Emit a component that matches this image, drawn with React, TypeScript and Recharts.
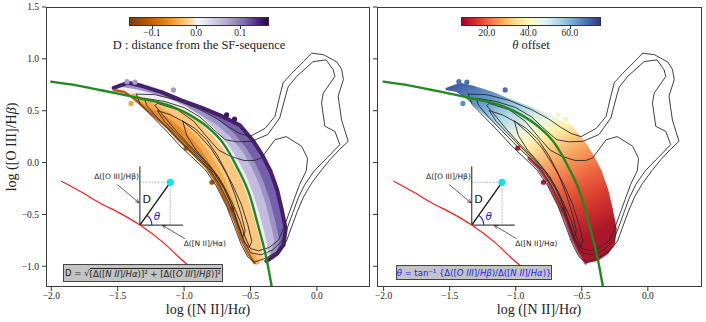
import React from 'react';
import { ScatterChart, Scatter, XAxis, YAxis, ReferenceLine, ReferenceDot } from 'recharts';

type Pt = [number, number];

// axis ticks
const X_TICKS = [-2, -1.5, -1, -0.5, 0];
const Y_TICKS = [-1, -0.5, 0, 0.5, 1, 1.5];

// colourbars
const D_TICKS = [-0.1, 0, 0.1];
const D_RANGE = [-0.152, 0.165];
const THETA_TICKS = [20, 40, 60];
const THETA_RANGE = [7.5, 75];

// green SF-sequence curve
const SF_CURVE: Pt[] = [
  [-2.0, 0.78], [-1.8, 0.742], [-1.635, 0.70], [-1.48, 0.66], [-1.333, 0.62], [-1.132, 0.558],
  [-0.959, 0.46], [-0.831, 0.35], [-0.708, 0.19], [-0.605, -0.035], [-0.505, -0.32],
  [-0.442, -0.61], [-0.379, -0.93], [-0.341, -1.19],
];

// red curve
const RED_CURVE: Pt[] = [
  [-1.923, -0.18], [-1.78, -0.28], [-1.635, -0.39], [-1.48, -0.49], [-1.333, -0.603],
  [-1.158, -0.77], [-1.007, -0.95], [-0.96, -1.0],
];

// hexbin band: edges and colour iso-lines, top-left tip to bottom
const EDGE_HIGH: Pt[] = [
  [-1.53, 0.72], [-1.42, 0.77], [-1.32, 0.74], [-1.17, 0.68], [-1.02, 0.60], [-0.87, 0.53],
  [-0.72, 0.45], [-0.58, 0.36], [-0.48, 0.21], [-0.41, 0.07], [-0.35, -0.08], [-0.30, -0.26],
  [-0.265, -0.45], [-0.235, -0.64], [-0.25, -0.79], [-0.30, -0.88], [-0.38, -0.95],
];
const MID_HIGH: Pt[] = [
  [-1.45, 0.75], [-1.32, 0.72], [-1.17, 0.655], [-1.02, 0.575], [-0.88, 0.49], [-0.75, 0.39],
  [-0.64, 0.27], [-0.55, 0.13], [-0.48, -0.02], [-0.42, -0.19], [-0.37, -0.38], [-0.33, -0.58],
  [-0.30, -0.76], [-0.33, -0.88],
];
const CENTER: Pt[] = [
  [-1.53, 0.71], [-1.38, 0.68], [-1.25, 0.64], [-1.12, 0.59], [-1.0, 0.52], [-0.88, 0.42],
  [-0.78, 0.30], [-0.69, 0.16], [-0.62, 0.02], [-0.56, -0.12], [-0.51, -0.28], [-0.47, -0.44],
  [-0.43, -0.62], [-0.40, -0.78], [-0.38, -0.93],
];
const MID_LOW: Pt[] = [
  [-1.38, 0.64], [-1.25, 0.555], [-1.12, 0.46], [-1.02, 0.36], [-0.93, 0.25], [-0.85, 0.13],
  [-0.78, -0.01], [-0.71, -0.17], [-0.65, -0.36], [-0.60, -0.55], [-0.55, -0.73], [-0.50, -0.88],
  [-0.45, -0.96],
];
const EDGE_LOW: Pt[] = [
  [-1.53, 0.70], [-1.45, 0.68], [-1.38, 0.62], [-1.30, 0.53], [-1.22, 0.44], [-1.12, 0.33],
  [-1.05, 0.23], [-0.97, 0.13], [-0.90, 0.04], [-0.83, -0.05], [-0.755, -0.19], [-0.68, -0.39],
  [-0.62, -0.56], [-0.57, -0.74], [-0.52, -0.87], [-0.47, -0.97],
];

// loose hexbin cells
const STRAY_TOP: Pt[] = [[-1.08, 0.70], [-1.43, 0.78], [-1.37, 0.775]];
const STRAY_MID: Pt[] = [[-0.68, 0.46], [-0.62, 0.42]];
const STRAY_LEFT: Pt[] = [[-1.40, 0.57]];
const STRAY_EDGE: Pt[] = [[-0.79, -0.19], [-0.64, -0.45], [-0.985, 0.14]];

// density contours
const CONTOUR_1: Pt[] = [
  [-1.36, 0.66], [-1.22, 0.655], [-1.05, 0.60], [-0.88, 0.51], [-0.75, 0.42], [-0.66, 0.34],
  [-0.58, 0.28], [-0.505, 0.25], [-0.39, 0.33], [-0.316, 0.445], [-0.28, 0.64], [-0.254, 0.77],
  [-0.19, 0.86], [-0.10, 0.974], [-0.04, 1.055], [0.05, 1.04], [0.15, 0.97], [0.186, 0.90],
  [0.20, 0.80], [0.16, 0.64], [0.186, 0.41], [0.236, 0.205], [0.17, 0.125], [0.10, 0.03],
  [0.03, -0.08], [-0.04, -0.20], [-0.10, -0.33], [-0.15, -0.48], [-0.19, -0.62], [-0.23, -0.76],
  [-0.29, -0.85], [-0.38, -0.92], [-0.47, -0.96], [-0.52, -0.91], [-0.57, -0.79], [-0.62, -0.62],
  [-0.68, -0.42], [-0.76, -0.22], [-0.84, -0.07], [-0.93, 0.04], [-1.03, 0.16], [-1.13, 0.30],
  [-1.23, 0.43], [-1.33, 0.56], [-1.36, 0.66],
];
const CONTOUR_2: Pt[] = [
  [-1.30, 0.62], [-1.15, 0.59], [-1.0, 0.53], [-0.88, 0.44], [-0.78, 0.32], [-0.69, 0.22],
  [-0.60, 0.20], [-0.49, 0.205], [-0.37, 0.27], [-0.28, 0.43], [-0.23, 0.67], [-0.216, 0.73],
  [-0.153, 0.83], [-0.028, 0.974], [0.07, 0.99], [0.123, 0.894], [0.136, 0.83], [0.048, 0.67],
  [0.035, 0.574], [0.06, 0.35], [0.136, 0.30], [0.173, 0.173], [0.08, 0.05], [-0.02, -0.08],
  [-0.09, -0.21], [-0.14, -0.34], [-0.18, -0.48], [-0.22, -0.62], [-0.26, -0.75], [-0.33, -0.84],
  [-0.42, -0.89], [-0.50, -0.87], [-0.55, -0.75], [-0.60, -0.58], [-0.66, -0.40], [-0.73, -0.22],
  [-0.80, -0.08], [-0.90, 0.05], [-1.0, 0.17], [-1.10, 0.30], [-1.20, 0.43], [-1.28, 0.55],
  [-1.30, 0.62],
];
const CONTOUR_3: Pt[] = [
  [-1.20, 0.57], [-1.05, 0.51], [-0.93, 0.40], [-0.83, 0.25], [-0.74, 0.12], [-0.65, 0.06],
  [-0.55, 0.02], [-0.47, 0.02], [-0.417, 0.045], [-0.316, 0.22], [-0.23, 0.25], [-0.115, 0.157],
  [-0.07, 0.04], [-0.08, -0.08], [-0.13, -0.21], [-0.17, -0.35], [-0.21, -0.49], [-0.25, -0.63],
  [-0.29, -0.75], [-0.36, -0.82], [-0.44, -0.85], [-0.50, -0.83], [-0.54, -0.72], [-0.58, -0.56],
  [-0.64, -0.38], [-0.71, -0.21], [-0.78, -0.08], [-0.87, 0.05], [-0.97, 0.18], [-1.07, 0.32],
  [-1.16, 0.46], [-1.22, 0.55], [-1.20, 0.57],
];
const CONTOUR_4: Pt[] = [
  [-1.20, 0.50], [-1.10, 0.46], [-1.0, 0.39], [-0.90, 0.28], [-0.80, 0.14], [-0.72, -0.02],
  [-0.64, -0.20], [-0.57, -0.40], [-0.52, -0.60], [-0.49, -0.76], [-0.51, -0.82], [-0.55, -0.76],
  [-0.59, -0.60], [-0.64, -0.42], [-0.70, -0.25], [-0.77, -0.11], [-0.86, 0.02], [-0.96, 0.15],
  [-1.06, 0.28], [-1.15, 0.40], [-1.20, 0.50],
];
const CONTOUR_5: Pt[] = [
  [-1.01, 0.40], [-0.92, 0.33], [-0.83, 0.22], [-0.75, 0.07], [-0.68, -0.10], [-0.62, -0.30],
  [-0.57, -0.50], [-0.54, -0.66], [-0.56, -0.72], [-0.59, -0.62], [-0.63, -0.45], [-0.68, -0.28],
  [-0.74, -0.14], [-0.82, -0.01], [-0.91, 0.12], [-0.98, 0.26], [-1.01, 0.40],
];
const CONTOURS = [CONTOUR_1, CONTOUR_2, CONTOUR_3, CONTOUR_4, CONTOUR_5];

// inset sketch of D and theta
const ORIGIN: Pt = [-1.333, -0.603];
const POINT: Pt = [-1.104, -0.19];
const V_TOP: Pt = [-1.333, -0.036];
const H_END: Pt = [-1.007, -0.603];
const ARROW_O3: [Pt, Pt] = [[-1.504, -0.212], [-1.339, -0.388]];
const ARROW_N2: [Pt, Pt] = [[-0.994, -0.734], [-1.162, -0.606]];
const LABEL_O3: Pt = [-1.509, -0.135];
const LABEL_N2: Pt = [-0.844, -0.782];
const LABEL_D: Pt = [-1.281, -0.356];
const LABEL_TH: Pt = [-1.205, -0.519];

const toXY = (pts: Pt[]) => pts.map(([x, y]) => ({ x, y }));
const strip = (a: Pt[], b: Pt[]) => [...a, ...b.slice().reverse()];
const fmt = (v: number) => v.toFixed(1).replace('-', '\u2212');
const noDot = () => <g />;
const SERIF = '"Liberation Serif", "DejaVu Serif", serif';
const SANS = '"DejaVu Sans", sans-serif';

const poly = (key: string, pts: Pt[], fill: string) => (
  <Scatter key={key} data={toXY(pts)} shape={noDot} line={{ fill, stroke: 'none' }}
    lineType="joint" isAnimationActive={false} legendType="none" />
);
const path = (key: string, pts: Pt[], stroke: string, width: number, joint: any = 'linear', extra: any = {}) => (
  <Scatter key={key} data={toXY(pts)} shape={noDot}
    line={{ stroke, strokeWidth: width, fill: 'none', strokeLinejoin: 'round', strokeLinecap: 'round', ...extra }}
    lineType="joint" lineJointType={joint} isAnimationActive={false} legendType="none" />
);
const dots = (key: string, pts: Pt[], fill: string, r: number) => (
  <Scatter key={key} data={toXY(pts)} fill={fill}
    shape={(p: any) => <circle cx={p.cx} cy={p.cy} r={r} fill={fill} />}
    isAnimationActive={false} legendType="none" />
);
const seg = (key: string, a: Pt, b: Pt, stroke: string, width: number, extra: any = {}) => (
  <ReferenceLine key={key} segment={[{ x: a[0], y: a[1] }, { x: b[0], y: b[1] }]}
    stroke={stroke} strokeWidth={width} {...extra} />
);
const label = (key: string, at: Pt, node: React.ReactNode, size: number, color: string, italic = false) => (
  <ReferenceDot key={key} x={at[0]} y={at[1]} r={0}
    shape={(p: any) => (
      <text x={p.cx} y={p.cy} textAnchor="middle" dominantBaseline="central" fontSize={size}
        fontFamily={SANS} fill={color} fontStyle={italic ? 'italic' : 'normal'}>{node}</text>
    )} />
);

function Panel({ side }: { side: 'left' | 'right' }) {
  const isLeft = side === 'left';
  const id = side;
  return (
    <ScatterChart width={isLeft ? 372 : 334} height={322}
      margin={{ top: 7, right: isLeft ? 2 : 4, bottom: 0, left: 0 }}>
      <defs>
        <linearGradient id={`theta-${id}`} x1="0.05" y1="0" x2="0.55" y2="1">
          <stop offset="0" stopColor="#3a55a4" />
          <stop offset="0.16" stopColor="#6a9fcc" />
          <stop offset="0.27" stopColor="#b0d8e8" />
          <stop offset="0.38" stopColor="#eef6df" />
          <stop offset="0.45" stopColor="#fff2ac" />
          <stop offset="0.53" stopColor="#fdc27a" />
          <stop offset="0.61" stopColor="#f99857" />
          <stop offset="0.73" stopColor="#ec6040" />
          <stop offset="0.86" stopColor="#d4352d" />
          <stop offset="1" stopColor="#ab162b" />
        </linearGradient>
        <marker id={`arrow-${id}`} viewBox="0 0 10 10" refX="9" refY="5" markerWidth="6" markerHeight="6" orient="auto">
          <path d="M0,1 L10,5 L0,9" fill="none" stroke="#222" strokeWidth={1.4} />
        </marker>
      </defs>
      <XAxis type="number" dataKey="x" domain={isLeft ? [-2.04, 0.40] : [-2.05, 0.41]} allowDataOverflow
        ticks={X_TICKS} tickFormatter={fmt} height={35} axisLine={false} tickSize={4} tickMargin={1}
        tickLine={{ stroke: '#333' }} tick={{ fontSize: 9.5, fill: '#222', fontFamily: SERIF }} interval={0} />
      <YAxis type="number" dataKey="y" domain={[-1.2, 1.5]} allowDataOverflow ticks={Y_TICKS}
        tickFormatter={isLeft ? fmt : () => ''} width={isLeft ? 46 : 5} axisLine={false} tickSize={4} tickMargin={3}
        tickLine={{ stroke: '#333' }} tick={{ fontSize: 9.5, fill: '#222', fontFamily: SERIF }} interval={0} />

      {isLeft && [
        poly('base', strip(EDGE_HIGH, EDGE_LOW), '#f1e4e0'),
        poly('s1', strip(EDGE_HIGH, MID_HIGH), '#7461aa'),
        poly('s2', strip(MID_HIGH, CENTER), '#c2bcde'),
        poly('s3', strip(CENTER, MID_LOW), '#fcc880'),
        poly('s4', strip(MID_LOW, EDGE_LOW), '#e58d2c'),
        path('b1', MID_HIGH, '#9d92c6', 5),
        path('b2', CENTER, '#f1eef3', 6),
        path('b3', MID_LOW, '#f7aa4e', 5),
        path('e1', EDGE_HIGH, '#46206f', 4),
        path('e2', EDGE_LOW, '#b65f10', 2.5),
        dots('d1', STRAY_TOP, '#a79bcc', 2.6),
        dots('d2', STRAY_MID, '#3b1766', 2.6),
        dots('d3', STRAY_LEFT, '#f4a54c', 2.6),
        dots('d4', STRAY_EDGE, '#a1560f', 2.6),
      ]}
      {!isLeft && [
        poly('base', strip(EDGE_HIGH, EDGE_LOW), `url(#theta-${id})`),
        path('e2', EDGE_LOW.slice(8), '#a20f2a', 3, 'linear', { strokeOpacity: 0.75 }),
        dots('d1', STRAY_TOP, '#4a70b0', 2.6),
        dots('d2', STRAY_MID, '#f2f5c8', 2.6),
        dots('d3', STRAY_LEFT, '#5b8fc3', 2.6),
        dots('d4', STRAY_EDGE, '#b0182b', 2.6),
      ]}

      {CONTOURS.map((c, i) => path(`c${i}`, c, '#2a2a2a', 0.9))}
      {path('sf', SF_CURVE, '#1f8a1f', 2.4, 'monotoneX')}
      {path('red', RED_CURVE, '#ff1a1a', 1.2, 'monotoneX')}

      {seg('v', ORIGIN, V_TOP, '#444', 1.2)}
      {seg('h', ORIGIN, H_END, '#444', 1.2)}
      {seg('dx', [ORIGIN[0], POINT[1]], POINT, '#777', 0.6, { strokeDasharray: '1.5 1.5' })}
      {seg('dy', POINT, [POINT[0], ORIGIN[1]], '#777', 0.6, { strokeDasharray: '1.5 1.5' })}
      {seg('diag', ORIGIN, POINT, '#111', 1.3)}
      {[ARROW_O3, ARROW_N2].map((a, i) => (
        <ReferenceLine key={`arr${i}`} segment={[{ x: a[0][0], y: a[0][1] }, { x: a[1][0], y: a[1][1] }]}
          shape={(p: any) => (
            <line x1={p.x1} y1={p.y1} x2={p.x2} y2={p.y2} stroke="#222" strokeWidth={0.7}
              markerEnd={`url(#arrow-${id})`} />
          )} />
      ))}
      <ReferenceDot x={ORIGIN[0]} y={ORIGIN[1]} r={0}
        shape={(p: any) => {
          const r = 12;
          const a = (54.6 * Math.PI) / 180;
          return (
            <path d={`M${p.cx + r},${p.cy} A${r},${r} 0 0 0 ${p.cx + r * Math.cos(a)},${p.cy - r * Math.sin(a)}`}
              fill="none" stroke="#1d1dff" strokeWidth={1.1} />
          );
        }} />
      <ReferenceDot x={POINT[0]} y={POINT[1]} r={3.6} fill="#16e0ee" stroke="none" />
      {label('lo3', LABEL_O3, 'Δ([O III]/Hβ)', 7.5, '#222')}
      {label('ln2', LABEL_N2, 'Δ([N II]/Hα)', 7.5, '#222')}
      {label('ld', LABEL_D, 'D', 11, '#111')}
      {label('lt', LABEL_TH, 'θ', 10.5, '#1d1dff', true)}
    </ScatterChart>
  );
}

const frame = (left: number, width: number): React.CSSProperties => ({
  position: 'absolute', left, top: 7, width, height: 280, border: '1px solid #3a3a3a',
  boxSizing: 'border-box', pointerEvents: 'none',
});

function Colorbar({ left, stops, ticks, range, title, decimals }: {
  left: number; stops: string; ticks: number[]; range: number[]; title: React.ReactNode; decimals: number;
}) {
  const w = 140;
  const pos = (v: number) => ((v - range[0]) / (range[1] - range[0])) * w;
  return (
    <div style={{ position: 'absolute', left, top: 17, width: w, height: 40 }}>
      <div style={{ position: 'absolute', left: 0, top: 0, width: w, height: 9, background: `linear-gradient(to right, ${stops})`, border: '0.8px solid #333', boxSizing: 'border-box' }} />
      {ticks.map((t) => (
        <React.Fragment key={t}>
          <div style={{ position: 'absolute', left: pos(t), top: 9, width: 0.8, height: 3, background: '#333' }} />
          <div style={{ position: 'absolute', left: pos(t) - 20, top: 11, width: 40, textAlign: 'center', fontSize: 9.5, lineHeight: '11px', color: '#222' }}>
            {t.toFixed(decimals).replace('-', '\u2212')}
          </div>
        </React.Fragment>
      ))}
      <div style={{ position: 'absolute', left: -60, top: 21, width: w + 120, textAlign: 'center', fontSize: 12.5, lineHeight: '15px', color: '#222' }}>
        {title}
      </div>
    </div>
  );
}

const PUOR = '#7f3b08 0%, #b35806 12%, #e08214 25%, #fdb863 37%, #fee0b6 45%, #f7f7f7 49%, #d8daeb 58%, #b2abd2 70%, #8073ac 82%, #542788 92%, #2d004b 100%';
const RDYLBU = '#a50026 0%, #d73027 10%, #f46d43 20%, #fdae61 30%, #fee090 40%, #ffffbf 50%, #e0f3f8 60%, #abd9e9 70%, #74add1 80%, #4575b4 90%, #313695 100%';

export default function App() {
  return (
    <div style={{ position: 'absolute', left: 0, top: 0, width: 706, height: 322, background: '#fff', fontFamily: SERIF, overflow: 'hidden' }}>
      <div style={{ position: 'absolute', left: 0, top: 0 }}><Panel side="left" /></div>
      <div style={{ position: 'absolute', left: 372, top: 0 }}><Panel side="right" /></div>
      <div style={frame(46, 324)} />
      <div style={frame(377, 325)} />

      <Colorbar left={129} stops={PUOR} ticks={D_TICKS} range={D_RANGE} decimals={1}
        title={<span>D : distance from the SF-sequence</span>} />
      <Colorbar left={461} stops={RDYLBU} ticks={THETA_TICKS} range={THETA_RANGE} decimals={1}
        title={<span><i>θ</i> offset</span>} />

      {[208, 539].map((cx) => (
        <div key={cx} style={{ position: 'absolute', left: cx - 80, top: 302, width: 160, textAlign: 'center', fontSize: 14, lineHeight: '16px', color: '#222' }}>
          log ([N II]/H<i>α</i>)
        </div>
      ))}
      <div style={{ position: 'absolute', left: 12 - 100, top: 147 - 9, width: 200, height: 18, lineHeight: '18px', textAlign: 'center', fontSize: 14, color: '#222', transform: 'rotate(-90deg)' }}>
        log ([O III]/H<i>β</i>)
      </div>

      <div style={{ position: 'absolute', left: 63, top: 264, width: 160, height: 18, background: '#c4c4c4', border: '1px solid #444', boxSizing: 'border-box', fontFamily: SANS, fontSize: 8.5, color: '#222', display: 'flex', alignItems: 'center', justifyContent: 'center', whiteSpace: 'nowrap' }}>
        D = √<span style={{ borderTop: '0.8px solid #222', lineHeight: '10px' }}>[Δ([<i>N II</i>]/<i>Hα</i>)]² + [Δ([<i>O III</i>]/<i>Hβ</i>)]²</span>
      </div>
      <div style={{ position: 'absolute', left: 396, top: 265, width: 156, height: 15, background: '#c4c4c4', border: '1px solid #444', boxSizing: 'border-box', fontFamily: SANS, fontSize: 8.5, color: '#1a1aff', display: 'flex', alignItems: 'center', justifyContent: 'center', whiteSpace: 'nowrap' }}>
        <i>θ</i>&nbsp;= tan⁻¹ {'{'}Δ([<i>O III</i>]/<i>Hβ</i>)/Δ([<i>N II</i>]/<i>Hα</i>){'}'}
      </div>
    </div>
  );
}
